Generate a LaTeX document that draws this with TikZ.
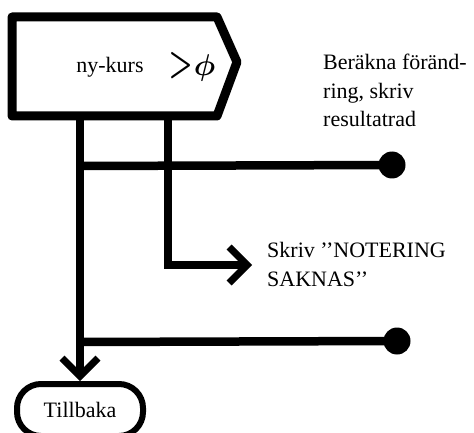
\documentclass[tikz,border=0pt]{standalone}
\usepackage{fontspec}
\setmainfont{Liberation Serif}
\usetikzlibrary{arrows.meta}
\newcommand{\gtphi}{{\mathversion{bold}\scalebox{1.3}[1.9]{$>$}\kern1pt\scalebox{1.45}{$\phi$}}}
\begin{document}
\begin{tikzpicture}[x=1pt,y=-1pt,
  conn/.style={line width=8.5pt},
  arr/.style={conn,-{Straight Barb[length=18pt,width=36pt,line width=7pt]}},
  dot/.style={circle,fill,inner sep=0pt,minimum size=27pt},
  lbl/.style={font=\fontsize{22}{28.5}\selectfont,inner sep=0pt,align=left,anchor=base west},
  big/.style={font=\fontsize{22}{26}\selectfont,inner sep=0pt},
  ]
\useasboundingbox (0,0) rectangle (474,433);
% pentagon box
\coordinate (p1) at (12,17);
\coordinate (p2) at (217,17);
\coordinate (p3) at (237,62);
\coordinate (p4) at (217,116);
\coordinate (p5) at (12,116);
\draw[line width=9pt,line join=round] (p1) -- (p2) -- (p3) -- (p4) -- (p5) -- cycle;
\node[lbl,anchor=base] (ny) at (110,73) {ny-kurs};
\node[big] (gt) at (192,67) {\gtphi};
% texts (base = last line)
\node[lbl] (calc) at (323,127) {Beräkna föränd-\\ring, skriv\\resultatrad};
\node[lbl] (skriv) at (267,286) {Skriv ’’NOTERING\\SAKNAS’’};
% end node
\node[big,draw,line width=6pt,rounded corners=24pt,minimum width=126pt,minimum height=52pt] (tb) at (80,410) {Tillbaka};
% connectors
\coordinate (s1) at (80,116);
\coordinate (s2) at (168,116);
\coordinate (j1) at (80,166);
\coordinate (j2) at (80,342);
\coordinate (c2) at (168,265);
\coordinate (a2) at (252,265);
\node[dot] (d1) at (392,165) {};
\node[dot] (d2) at (397,341) {};
\draw[arr] (s1) -- (tb.north);
\draw[conn] (j1) -- (d1.center);
\draw[conn] (j2) -- (d2.center);
\draw[arr,line join=miter] (s2) -- (c2) -- (a2);
\end{tikzpicture}
\end{document}
